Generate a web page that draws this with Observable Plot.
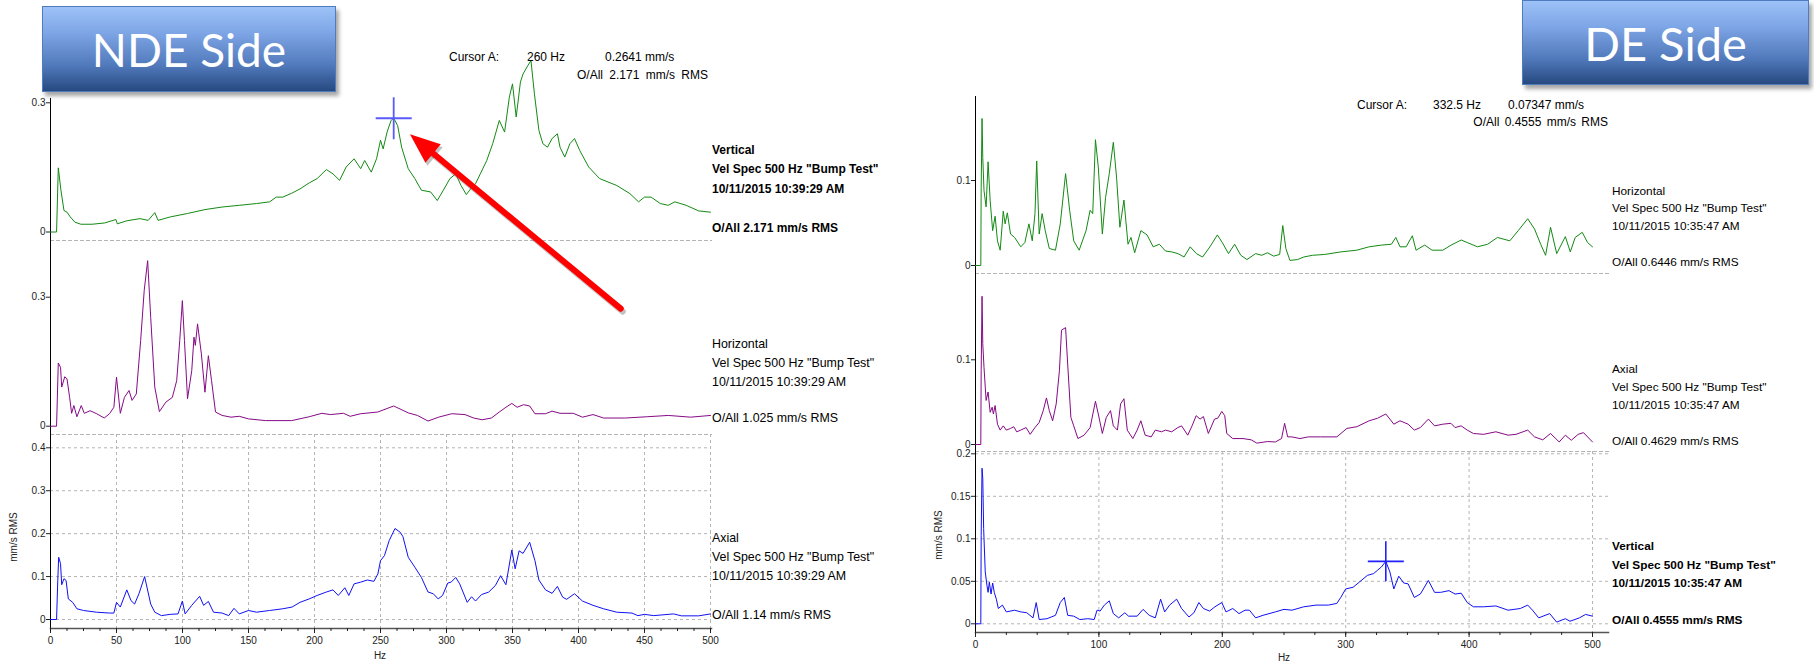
<!DOCTYPE html>
<html><head><meta charset="utf-8">
<script src="https://cdn.jsdelivr.net/npm/d3@7"></script>
<script src="https://cdn.jsdelivr.net/npm/@observablehq/plot@0.6"></script>
<style>
html,body{margin:0;padding:0;background:#fff;}
#root{position:relative;width:1814px;height:663px;overflow:hidden;font-family:"Liberation Sans",Arial,sans-serif;color:#000;background:#fff;}
.plotbox{position:absolute;}
.plotbox svg{overflow:visible;display:block;max-width:none;}
.t{position:absolute;white-space:nowrap;line-height:1;}
.box{position:absolute;box-sizing:border-box;border:1px solid #4f7cbf;
  background:linear-gradient(to bottom,#9dc2f8 0%,#7fa6e6 30%,#5079bb 70%,#26497f 100%);
  box-shadow:3px 4px 4px rgba(0,0,0,0.35);display:flex;align-items:center;justify-content:center;
  color:#fff;font-family:Lato,"Open Sans",sans-serif;font-weight:400;}
</style></head>
<body><div id="root"></div>
<script>
// ---------------- DATA ----------------
const ndeVertical = [[0,0],[4.6,0],[5.9,0.149],[7.9,0.097],[10.2,0.05],[12.5,0.046],[15,0.035],[18.4,0.023],[23,0.018],[31.5,0.018],[41,0.021],[49.6,0.029],[50.6,0.019],[57.8,0.026],[67.7,0.031],[74,0.027],[79,0.045],[81.5,0.027],[90.7,0.035],[103.8,0.043],[117,0.052],[130,0.058],[143,0.062],[156,0.066],[166,0.07],[171,0.081],[176,0.081],[182.7,0.09],[189,0.1],[196,0.114],[202,0.124],[209,0.145],[214,0.135],[219,0.12],[224,0.151],[230,0.17],[235,0.147],[238,0.166],[243,0.139],[247,0.17],[250,0.213],[252,0.193],[255,0.232],[258,0.259],[260,0.2641],[263,0.247],[266,0.197],[271,0.147],[276,0.124],[281,0.097],[288,0.093],[293,0.073],[297.6,0.097],[302.6,0.124],[307,0.135],[311,0.108],[315,0.087],[319,0.103],[322,0.112],[325.6,0.135],[330.5,0.166],[335,0.205],[340,0.259],[344,0.232],[347.6,0.313],[350,0.344],[352.8,0.267],[356,0.348],[358,0.367],[361.7,0.387],[364,0.398],[366.6,0.321],[370,0.236],[373,0.205],[376.5,0.197],[380,0.217],[384,0.228],[386,0.197],[389.6,0.174],[393.5,0.205],[397,0.217],[401,0.189],[407.7,0.151],[416,0.124],[429,0.108],[439,0.089],[445.5,0.07],[450,0.081],[455,0.081],[462,0.066],[468,0.062],[473,0.07],[481.6,0.062],[491,0.049],[500,0.046]];
const ndeHorizontal = [[0,0],[4.6,0],[5.9,0.147],[7.6,0.137],[8.5,0.091],[10.8,0.115],[12.5,0.11],[14.5,0.067],[16,0.03],[17.7,0.048],[20,0.022],[23.3,0.048],[25.6,0.03],[30,0.036],[35,0.029],[40.7,0.019],[44.7,0.029],[48,0.044],[50,0.114],[52.9,0.03],[56,0.067],[59.5,0.083],[61.8,0.06],[65,0.075],[68.3,0.199],[71,0.316],[73.6,0.385],[75.9,0.253],[79,0.091],[82.5,0.034],[87.4,0.056],[92.3,0.067],[95.6,0.106],[97.9,0.199],[99.9,0.292],[101.5,0.199],[103.8,0.064],[107,0.129],[108.7,0.207],[109.7,0.188],[111.4,0.238],[114.3,0.168],[117,0.079],[119.6,0.164],[122,0.106],[125,0.033],[130,0.025],[136.7,0.021],[143,0.023],[150,0.017],[163,0.013],[182.7,0.013],[196,0.022],[205.6,0.03],[212,0.027],[222,0.03],[227,0.023],[235,0.029],[248,0.033],[260,0.047],[271,0.031],[278,0.025],[286,0.012],[294,0.021],[304,0.029],[314,0.027],[320.6,0.019],[327,0.015],[334,0.019],[340,0.033],[345,0.044],[349.5,0.053],[353.5,0.044],[358.4,0.05],[363,0.047],[367,0.029],[375,0.029],[380,0.035],[386,0.03],[396,0.03],[403,0.021],[411,0.027],[419,0.019],[435.6,0.019],[452,0.022],[468,0.025],[485,0.021],[500,0.025]];
const ndeAxial = [[0,0],[4.6,0],[5.5,0.09],[6.2,0.145],[7.6,0.13],[8.5,0.081],[10.2,0.095],[11.8,0.091],[13.5,0.048],[16.8,0.04],[20,0.025],[25,0.021],[34.8,0.017],[44.7,0.015],[48,0.015],[50,0.04],[52.9,0.029],[57.8,0.069],[61,0.044],[63.7,0.036],[67,0.06],[71.3,0.1],[75.9,0.036],[79,0.017],[84,0.009],[90.7,0.012],[96.6,0.013],[99.9,0.043],[102,0.013],[107,0.033],[113,0.054],[116,0.033],[119.6,0.042],[123.5,0.017],[130,0.015],[135,0.009],[139,0.026],[143,0.013],[150,0.021],[156,0.017],[166,0.021],[176,0.025],[183,0.029],[189,0.04],[196,0.048],[202,0.056],[209,0.064],[214,0.069],[218,0.056],[223,0.074],[226,0.056],[230,0.083],[235,0.087],[240,0.092],[245,0.089],[248,0.106],[250,0.137],[253,0.149],[256.6,0.184],[261,0.212],[265,0.203],[267,0.193],[271,0.145],[276,0.122],[281,0.098],[286,0.064],[290,0.06],[293.7,0.048],[297,0.056],[301,0.085],[303.5,0.087],[307,0.098],[310,0.083],[315.7,0.04],[319,0.053],[322,0.043],[326.5,0.058],[332,0.064],[337,0.079],[341,0.102],[345,0.081],[349.5,0.162],[352,0.118],[355,0.16],[358,0.154],[363,0.18],[367,0.137],[370,0.092],[375,0.069],[380,0.061],[384,0.077],[388,0.052],[391,0.047],[397,0.06],[403,0.043],[411,0.033],[419,0.025],[429,0.017],[440.5,0.015],[445,0.009],[450,0.012],[457,0.009],[472,0.013],[478,0.0085],[491,0.0085],[500,0.013]];
const deHorizontal = [[0,0],[4.3,0],[4.6,0.092],[5.3,0.173],[5.9,0.127],[6.9,0.088],[8.6,0.069],[10.2,0.122],[11.9,0.076],[13.9,0.041],[15.9,0.058],[17.8,0.029],[20,0.018],[22.5,0.064],[24,0.049],[25.8,0.062],[28.4,0.037],[31.7,0.033],[36.7,0.022],[40,0.027],[43.3,0.049],[46,0.029],[48.2,0.061],[49.6,0.123],[51.6,0.037],[54,0.061],[56.5,0.041],[59.8,0.02],[64.8,0.018],[68.7,0.049],[73,0.108],[76.3,0.065],[79.6,0.029],[84,0.018],[89.6,0.041],[92.9,0.065],[95,0.061],[97.2,0.148],[99.5,0.116],[102.8,0.037],[105.4,0.08],[108.4,0.108],[111.7,0.145],[114.3,0.104],[117,0.045],[120.3,0.077],[123.6,0.025],[126,0.033],[129,0.015],[134,0.041],[139,0.036],[144,0.022],[149,0.025],[154,0.017],[159,0.016],[164,0.014],[169,0.01],[174,0.022],[179,0.014],[184,0.01],[190,0.022],[196,0.036],[200,0.027],[205,0.014],[210,0.025],[215,0.012],[220,0.007],[227,0.014],[232,0.012],[236.6,0.015],[241.6,0.011],[246.5,0.013],[249,0.047],[251.5,0.02],[254.8,0.006],[261,0.007],[266,0.01],[273,0.012],[283,0.013],[296,0.016],[309,0.018],[319,0.022],[329,0.024],[337,0.025],[340.6,0.033],[344,0.022],[349,0.022],[354,0.035],[357,0.018],[364,0.024],[370,0.018],[378.7,0.018],[385.4,0.024],[393.6,0.03],[398.5,0.027],[406.8,0.022],[415,0.025],[423,0.033],[433,0.029],[439.8,0.041],[447.5,0.055],[453,0.043],[458,0.025],[462,0.012],[466,0.045],[471,0.014],[478,0.034],[482,0.016],[486,0.033],[491.7,0.039],[496,0.027],[500,0.022]];
const deAxial = [[0,0],[4.3,0],[4.6,0.087],[5.3,0.175],[5.9,0.119],[6.9,0.091],[8.6,0.052],[10.2,0.062],[11.9,0.038],[13.5,0.044],[14.5,0.036],[15.9,0.046],[17.8,0.024],[20,0.017],[22.5,0.022],[25,0.017],[28.4,0.019],[31,0.021],[33.4,0.015],[36.7,0.017],[41,0.02],[44.3,0.012],[48.2,0.02],[51.6,0.026],[54.9,0.04],[57.5,0.055],[59.8,0.04],[62.5,0.028],[65.4,0.048],[68,0.087],[69.7,0.135],[73,0.138],[74.7,0.095],[77.3,0.032],[79.6,0.022],[83,0.007],[88,0.011],[92.9,0.02],[97.2,0.051],[99.5,0.036],[102.8,0.013],[106,0.032],[109.4,0.04],[111.7,0.022],[115,0.017],[117.6,0.048],[120.3,0.054],[123,0.017],[127.5,0.007],[131,0.017],[134,0.028],[137.5,0.011],[142.4,0.009],[145.7,0.017],[150.7,0.015],[154,0.017],[159,0.015],[164,0.02],[167,0.022],[172,0.011],[175.5,0.022],[178.8,0.034],[182,0.03],[184.7,0.033],[188.7,0.013],[193.7,0.03],[196.3,0.031],[199.6,0.039],[202,0.034],[203.6,0.013],[208.5,0.007],[216.8,0.007],[223.4,0.0055],[228,0.0016],[236.6,0.0035],[243,0.003],[248,0.007],[250.5,0.025],[253,0.009],[256.4,0.009],[263,0.007],[269.6,0.009],[279.6,0.009],[292.8,0.009],[301,0.019],[309,0.021],[319,0.028],[325.8,0.031],[332.5,0.036],[335.8,0.03],[339,0.024],[344,0.028],[350.6,0.024],[355.6,0.017],[360.5,0.02],[367,0.03],[372,0.022],[378.7,0.024],[385.3,0.025],[388.6,0.02],[393.6,0.022],[398.5,0.017],[403.5,0.013],[411.8,0.012],[421.7,0.015],[431.6,0.011],[438,0.012],[447.5,0.017],[453,0.009],[459.7,0.0055],[466,0.013],[473,0.003],[478,0.011],[482.8,0.005],[488.4,0.012],[492.7,0.014],[500,0.003]];
const deVertical = [[0,0],[4.3,0],[4.6,0.104],[5.3,0.183],[5.9,0.171],[6.6,0.112],[7.9,0.061],[9.3,0.045],[10.2,0.037],[11.2,0.049],[12.6,0.035],[13.9,0.048],[15.2,0.037],[16.9,0.029],[18.5,0.018],[21.8,0.022],[25,0.014],[31.7,0.016],[36.7,0.014],[41.6,0.013],[46.6,0.007],[49.2,0.025],[51.6,0.005],[58,0.006],[64.8,0.01],[68.7,0.025],[72,0.031],[74.7,0.01],[79.6,0.009],[84.6,0.005],[91,0.006],[96.2,0.005],[98.5,0.016],[101,0.015],[104.4,0.022],[108.4,0.027],[111.7,0.012],[116,0.007],[121,0.013],[124,0.009],[131,0.009],[135.8,0.017],[140.8,0.01],[145.7,0.007],[150,0.029],[153.3,0.014],[157.3,0.022],[163,0.029],[167,0.018],[173,0.008],[177,0.013],[181,0.025],[184.7,0.018],[189.7,0.015],[194,0.02],[199.6,0.025],[203,0.014],[208.5,0.018],[213.5,0.012],[218.4,0.016],[222,0.016],[227,0.007],[233,0.01],[243,0.014],[250,0.017],[256.4,0.016],[266,0.02],[276,0.022],[286,0.022],[292.8,0.024],[296,0.031],[300,0.041],[306,0.043],[311,0.049],[317.6,0.057],[322.5,0.059],[325.8,0.063],[329,0.067],[332.5,0.07347],[335.8,0.061],[339,0.041],[343,0.056],[347,0.048],[350.6,0.047],[355.6,0.031],[360.5,0.035],[367,0.051],[372,0.037],[377,0.037],[383.7,0.039],[388.6,0.035],[393.6,0.036],[398.5,0.025],[403.5,0.02],[411.8,0.02],[421.7,0.021],[431.6,0.016],[441.5,0.018],[447.5,0.022],[451.4,0.016],[456.4,0.007],[465.3,0.012],[471,0.002],[478,0.006],[481.8,0.003],[489.4,0.007],[494.4,0.011],[500,0.009]];

const ndeCursor = [{hz: 260, v: 0.2641}];
const deCursor = [{hz: 332.5, v: 0.07347}];
const ndeArrow = [{x1: 432, y1: -0.178, x2: 273.5, y2: 0.224}];

const ndeXTicks = [0,50,100,150,200,250,300,350,400,450,500];
const ndeXMinor = d3.range(0, 500.1, 12.5);
const deXTicks = [0,100,200,300,400,500];
const deXMinor = d3.range(0, 500.1, 25);
const ndeVertTicks = [0, 0.3];
const ndeHorzTicks = [0, 0.3];
const ndeAxialTicks = [0, 0.1, 0.2, 0.3, 0.4];
const deHorzTicks = [0, 0.1];
const deAxialTicks = [0, 0.1];
const deVertTicks = [0, 0.05, 0.1, 0.15, 0.2];

const GREEN = "#138a13", PURPLE = "#860a86", BLUE = "#1010f5";

// ---------------- HELPERS ----------------
const root = document.getElementById("root");
const fmt = d => String(d);
const px = d => d[0], py = d => d[1];
function cross(hw, hh) {
  return {draw(ctx) { ctx.moveTo(-hw, 0); ctx.lineTo(hw, 0); ctx.moveTo(0, -hh); ctx.lineTo(0, hh); }};
}
// filled arrowhead, tip at origin, pointing along +x
const headSym = {draw(ctx) { ctx.moveTo(2, 0); ctx.lineTo(-28, -12); ctx.lineTo(-28, 12); ctx.closePath(); }};
function place(svg, left, top) {
  const d = document.createElement("div");
  d.className = "plotbox"; d.style.left = left + "px"; d.style.top = top + "px";
  d.appendChild(svg); root.appendChild(d);
}
function panel(c) {
  const svg = Plot.plot({
    width: c.width, height: c.height,
    marginLeft: c.ml, marginRight: c.mr, marginTop: c.mt, marginBottom: c.mb,
    style: {background: "transparent", overflow: "visible", fontFamily: "'Liberation Sans', Arial, sans-serif", fontSize: "10px", color: "#222"},
    x: {domain: [0, 500], range: c.xRange, label: null, axis: null},
    y: {domain: c.yDomain, range: c.yRange, label: null, axis: null},
    marks: c.marks
  });
  place(svg, c.left, c.top);
}
const dash = {stroke: "#b4b4b4", strokeOpacity: 1, strokeDasharray: "3,3"};
function yAxis(ticks) { return Plot.axisY({ticks, tickSize: 4, tickPadding: 1, tickFormat: fmt, fontSize: 10}); }
function xAxes(major, minor) {
  return [
    Plot.axisX({ticks: minor, tickSize: 3, tickFormat: () => "", strokeWidth: 1}),
    Plot.axisX({ticks: major, tickSize: 5, tickPadding: 3, tickFormat: fmt, fontSize: 10})
  ];
}
function txt(s, x, cy, o = {}) {
  const size = o.size || 12;
  const d = document.createElement("div");
  d.className = "t"; d.textContent = s;
  d.style.fontSize = size + "px";
  if (o.weight) d.style.fontWeight = o.weight;
  if (o.ws) d.style.wordSpacing = o.ws + "px";
  if (o.color) d.style.color = o.color;
  d.style.top = (cy - size * 0.5) + "px";
  if (o.anchor === "end") d.style.right = (1814 - x) + "px"; else d.style.left = x + "px";
  root.appendChild(d);
  return d;
}
function vtxt(s, cx, cy, size) {
  const d = document.createElement("div");
  d.className = "t"; d.textContent = s; d.style.fontSize = size + "px"; d.style.color = "#222";
  d.style.left = cx + "px"; d.style.top = cy + "px";
  d.style.transform = "translate(-50%,-50%) rotate(-90deg)";
  root.appendChild(d);
}

// ---------------- NDE SIDE ----------------
const ndeX = {left: 0, width: 720, ml: 50, mr: 9, xRange: [50, 710]};
const ndeVY = {domain: [0, 0.3], range: [191.5, 62.3]};
// arrow direction in screen space (from the scales' own domain/range)
const a0 = ndeArrow[0];
const kx = (ndeX.xRange[1] - ndeX.xRange[0]) / 500;
const ky = (ndeVY.range[1] - ndeVY.range[0]) / (ndeVY.domain[1] - ndeVY.domain[0]);
const arrowDeg = Math.atan2((a0.y2 - a0.y1) * ky, (a0.x2 - a0.x1) * kx) * 180 / Math.PI;
const arrowMarks = (stroke, opacity, dx, dy) => [
  Plot.arrow(ndeArrow, {x1: "x1", y1: "y1", x2: "x2", y2: "y2", stroke, strokeOpacity: opacity, strokeWidth: 6, headLength: 0, insetEnd: 20, dx, dy}),
  Plot.dot(ndeArrow, {x: "x2", y: "y2", symbol: headSym, r: 5, fill: stroke, fillOpacity: opacity, stroke: "none", rotate: arrowDeg, dx, dy})
];
// Vertical (green) : svg 40..241, frame 98..240
panel({...ndeX, top: 40, height: 201, mt: 58, mb: 1,
  yDomain: ndeVY.domain, yRange: ndeVY.range,
  marks: [
    Plot.frame({anchor: "bottom", ...dash}),
    Plot.ruleX([0], {stroke: "#000"}),
    yAxis(ndeVertTicks),
    Plot.line(ndeVertical, {x: px, y: py, stroke: GREEN, strokeWidth: 1}),
    Plot.dot(ndeCursor, {x: "hz", y: "v", symbol: cross(18, 21), r: 5, fill: "none", stroke: "#5a5aff", strokeWidth: 1.8}),
    ...arrowMarks("#666", 0.4, 2, 3),
    ...arrowMarks("#ff0000", 1, 0, 0)
  ]});
// Horizontal (purple): svg 240..435, frame 240..434
panel({...ndeX, top: 240, height: 195, mt: 0, mb: 1,
  yDomain: [0, 0.3], yRange: [185.7, 56.7],
  marks: [
    Plot.frame({anchor: "bottom", ...dash}),
    Plot.ruleX([0], {stroke: "#000"}),
    yAxis(ndeHorzTicks),
    Plot.line(ndeHorizontal, {x: px, y: py, stroke: PURPLE, strokeWidth: 1})
  ]});
// Axial (blue): svg 434..663, frame 434..628
panel({...ndeX, top: 434, height: 229, mt: 0, mb: 35,
  yDomain: [0, 0.4], yRange: [185, 13.3],
  marks: [
    Plot.gridY({ticks: ndeAxialTicks, ...dash}),
    Plot.gridX({ticks: ndeXTicks.slice(1), ...dash}),
    Plot.ruleX([0], {stroke: "#000"}),
    Plot.frame({anchor: "bottom", stroke: "#555", strokeWidth: 1.5}),
    yAxis(ndeAxialTicks),
    ...xAxes(ndeXTicks, ndeXMinor),
    Plot.line(ndeAxial, {x: px, y: py, stroke: BLUE, strokeWidth: 1})
  ]});

// ---------------- DE SIDE ----------------
const deX = {left: 900, width: 914, ml: 75, mr: 206, xRange: [75, 692]};
panel({...deX, top: 80, height: 194, mt: 16, mb: 1,
  yDomain: [0, 0.1], yRange: [185, 100],
  marks: [
    Plot.frame({anchor: "bottom", ...dash}),
    Plot.ruleX([0], {stroke: "#000"}),
    yAxis(deHorzTicks),
    Plot.line(deHorizontal, {x: px, y: py, stroke: GREEN, strokeWidth: 1})
  ]});
panel({...deX, top: 273, height: 179, mt: 0, mb: 1,
  yDomain: [0, 0.1], yRange: [171, 86.3],
  marks: [
    Plot.frame({anchor: "bottom", ...dash}),
    Plot.ruleX([0], {stroke: "#000"}),
    yAxis(deAxialTicks),
    Plot.line(deAxial, {x: px, y: py, stroke: PURPLE, strokeWidth: 1})
  ]});
panel({...deX, top: 451, height: 212, mt: 0, mb: 31,
  yDomain: [0, 0.2], yRange: [172.3, 2.3],
  marks: [
    Plot.gridY({ticks: deVertTicks, ...dash}),
    Plot.gridX({ticks: deXTicks.slice(1), ...dash}),
    Plot.ruleX([0], {stroke: "#000"}),
    Plot.frame({anchor: "bottom", stroke: "#555", strokeWidth: 1.5}),
    yAxis(deVertTicks),
    ...xAxes(deXTicks, deXMinor),
    Plot.line(deVertical, {x: px, y: py, stroke: BLUE, strokeWidth: 1}),
    Plot.dot(deCursor, {x: "hz", y: "v", symbol: cross(18, 20), r: 5, fill: "none", stroke: "#2020ff", strokeWidth: 1.6})
  ]});

// ---------------- TEXT ----------------
txt("Hz", 380, 656, {size: 10, color: "#222"}).style.transform = "translateX(-50%)";
txt("Hz", 1284, 658, {size: 10, color: "#222"}).style.transform = "translateX(-50%)";
vtxt("mm/s RMS", 14, 537, 10);
vtxt("mm/s RMS", 939, 535, 10);

txt("Cursor A:", 449, 57);
txt("260 Hz", 527, 57);
txt("0.2641 mm/s", 605, 57);
txt("O/All 2.171 mm/s RMS", 708, 75, {anchor: "end", ws: 3});
txt("Cursor A:", 1357, 105);
txt("332.5 Hz", 1433, 105);
txt("0.07347 mm/s", 1508, 105);
txt("O/All 0.4555 mm/s RMS", 1608, 122, {anchor: "end", ws: 2});

const L = 712, R = 1612;
txt("Vertical", L, 150, {weight: 700});
txt('Vel Spec 500 Hz "Bump Test"', L, 169, {weight: 700});
txt("10/11/2015 10:39:29 AM", L, 189, {weight: 700});
txt("O/All 2.171 mm/s RMS", L, 228, {weight: 700});
txt("Horizontal", L, 344, {size: 12.4});
txt('Vel Spec 500 Hz "Bump Test"', L, 363, {size: 12.4});
txt("10/11/2015 10:39:29 AM", L, 382, {size: 12.4});
txt("O/All 1.025 mm/s RMS", L, 418, {size: 12.4});
txt("Axial", L, 538, {size: 12.4});
txt('Vel Spec 500 Hz "Bump Test"', L, 557, {size: 12.4});
txt("10/11/2015 10:39:29 AM", L, 576, {size: 12.4});
txt("O/All 1.14 mm/s RMS", L, 615, {size: 12.4});

txt("Horizontal", R, 192, {size: 11.8});
txt('Vel Spec 500 Hz "Bump Test"', R, 209, {size: 11.8});
txt("10/11/2015 10:35:47 AM", R, 227, {size: 11.8});
txt("O/All 0.6446 mm/s RMS", R, 263, {size: 11.8});
txt("Axial", R, 370, {size: 11.8});
txt('Vel Spec 500 Hz "Bump Test"', R, 388, {size: 11.8});
txt("10/11/2015 10:35:47 AM", R, 406, {size: 11.8});
txt("O/All 0.4629 mm/s RMS", R, 442, {size: 11.8});
txt("Vertical", R, 547, {size: 11.8, weight: 700});
txt('Vel Spec 500 Hz "Bump Test"', R, 566, {size: 11.8, weight: 700});
txt("10/11/2015 10:35:47 AM", R, 584, {size: 11.8, weight: 700});
txt("O/All 0.4555 mm/s RMS", R, 621, {size: 11.8, weight: 700});

function box(label, left, top, w, h, fs) {
  const d = document.createElement("div");
  d.className = "box"; d.textContent = label;
  Object.assign(d.style, {left: left + "px", top: top + "px", width: w + "px", height: h + "px", fontSize: fs + "px"});
  root.appendChild(d);
}
box("NDE Side", 42, 6, 294, 86, 46);
box("DE Side", 1522, 0, 287, 85, 47);
</script>
</body></html>
